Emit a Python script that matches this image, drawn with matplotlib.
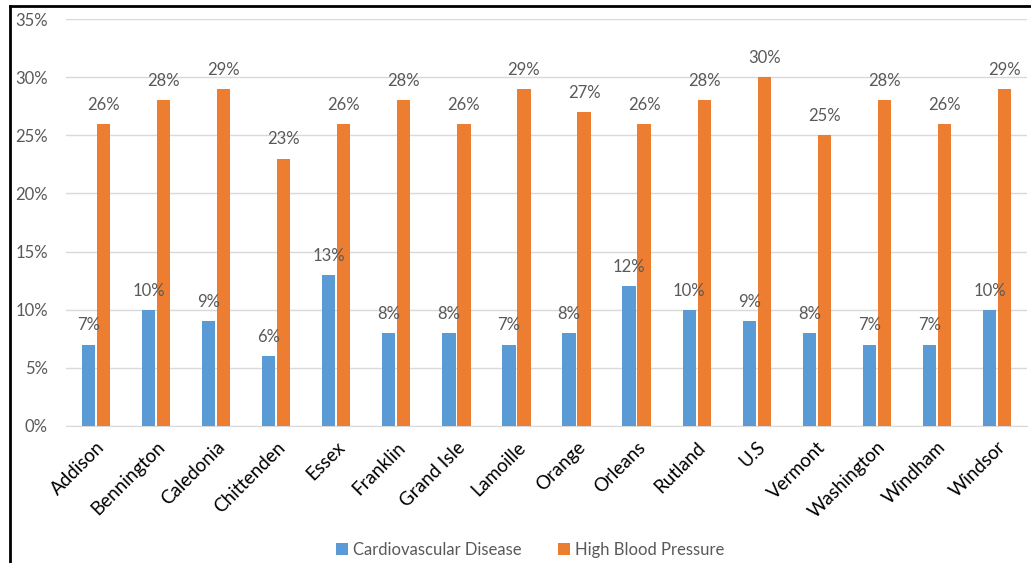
import matplotlib.pyplot as plt
from matplotlib.lines import Line2D
import numpy as np

plt.rcParams['font.family'] = ['Lato', 'DejaVu Sans']

counties = ['Addison', 'Bennington', 'Caledonia', 'Chittenden', 'Essex', 'Franklin',
            'Grand Isle', 'Lamoille', 'Orange', 'Orleans', 'Rutland', 'U.S',
            'Vermont', 'Washington', 'Windham', 'Windsor']
cardio = [7, 10, 9, 6, 13, 8, 8, 7, 8, 12, 10, 9, 8, 7, 7, 10]
blood_pressure = [26, 28, 29, 23, 26, 28, 26, 29, 27, 26, 28, 30, 25, 28, 26, 29]

blue = '#5B9BD5'
orange = '#ED7D31'
grey = '#595959'

fig = plt.figure(figsize=(10.31, 5.63), dpi=100)
ax = fig.add_axes([66 / 1031, 1 - 426 / 563, 961 / 1031, 407 / 563])

x = np.arange(len(counties))
w = 0.22
gap = 0.03
b1 = ax.bar(x - w / 2 - gap / 2, cardio, w, color=blue, label='Cardiovascular Disease', zorder=3)
b2 = ax.bar(x + w / 2 + gap / 2, blood_pressure, w, color=orange, label='High Blood Pressure', zorder=3)

for bars, vals in ((b1, cardio), (b2, blood_pressure)):
    for bar, v in zip(bars, vals):
        ax.annotate(f'{v}%', (bar.get_x() + bar.get_width() / 2, v),
                    xytext=(0, 8), textcoords='offset points',
                    ha='center', va='bottom', fontsize=12, color=grey)

ax.set_xlim(-0.5, len(counties) - 0.5)
ax.set_ylim(0, 35)
ax.set_yticks(range(0, 36, 5))
ax.set_yticklabels([f'{t}%' for t in range(0, 36, 5)], fontsize=12)
ax.yaxis.grid(True, color='#D9D9D9', linewidth=1, zorder=0)
ax.set_xticks(x)
ax.set_xticklabels(counties, rotation=45, ha='right', rotation_mode='anchor', fontsize=13.5)
ax.tick_params(axis='both', length=0, colors='black')
ax.tick_params(axis='y', pad=13)
ax.tick_params(axis='x', pad=9)
for lab in ax.get_yticklabels():
    lab.set_color(grey)
for s in ['top', 'right', 'left']:
    ax.spines[s].set_visible(False)
ax.spines['bottom'].set_color('#D9D9D9')

fig.legend(loc='center', bbox_to_anchor=(530 / 1031, 1 - 550 / 563), ncol=2,
           frameon=False, fontsize=12, handlelength=0.7, handleheight=0.7,
           handletextpad=0.3, columnspacing=2.2, labelcolor=grey)

# outer frame on left and top
fig.add_artist(Line2D([10 / 1031, 10 / 1031], [0, 1 - 6 / 563], color='black', linewidth=2,
                      transform=fig.transFigure))
fig.add_artist(Line2D([10 / 1031, 1], [1 - 6 / 563, 1 - 6 / 563], color='black', linewidth=2,
                      transform=fig.transFigure))

fig.savefig('out.png', dpi=100)
